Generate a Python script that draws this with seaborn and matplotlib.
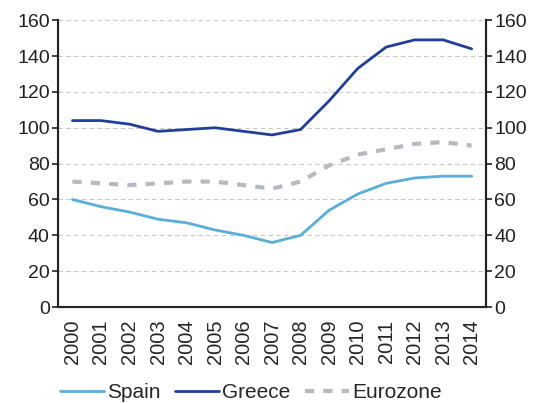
import matplotlib
matplotlib.use("Agg")
import matplotlib.pyplot as plt
import seaborn as sns
import pandas as pd
from matplotlib.lines import Line2D

years = [str(y) for y in range(2000, 2015)]
spain = [60, 56, 53, 49, 47, 43, 40, 36, 40, 54, 63, 69, 72, 73, 73]
greece = [104, 104, 102, 98, 99, 100, 98, 96, 99, 115, 133, 145, 149, 149, 144]
eurozone = [70, 69, 68, 69, 70, 70, 68, 66, 70, 79, 85, 88, 91, 92, 90]

series = {"Spain": spain, "Greece": greece, "Eurozone": eurozone}
colors = {"Spain": "#5aaedb", "Greece": "#213f98", "Eurozone": "#b5bac1"}

df = pd.DataFrame(
    [(i, name, v) for name, vals in series.items() for i, v in enumerate(vals)],
    columns=["x", "series", "value"],
)

sns.set_style("white")
plt.rcParams["font.family"] = ["Liberation Sans", "DejaVu Sans"]

fig = plt.figure(figsize=(5.34, 4.03), dpi=100)
ax = fig.add_axes([0.109, 0.238, 0.801, 0.712])

sns.lineplot(data=df, x="x", y="value", hue="series", palette=colors,
             hue_order=list(series), linewidth=2, ax=ax, legend=False)
# eurozone dashed
ax.lines[2].set_dashes([2.2, 2.2])
ax.lines[2].set_linewidth(3)

ax.set_xlim(-0.5, len(years) - 0.5)
ax.set_ylim(0, 160)
ax.set_yticks(range(0, 161, 20))
ax.set_xticks(range(len(years)))
ax.set_xticklabels(years, rotation=90, fontsize=14.5)
ax.set_xticks([i - 0.5 for i in range(len(years) + 1)], minor=True)
ax.tick_params(axis="x", which="major", length=0, pad=9)
ax.tick_params(axis="x", which="minor", length=4, width=1.2, color="#231f20")
ax.tick_params(axis="y", labelsize=14, length=4, width=1.2, color="#231f20",
               labelcolor="#231f20", pad=2)
ax.set_xlabel("")
ax.set_ylabel("")
ax.grid(axis="y", color="#c8c8c8", linestyle=(0, (4, 3)), linewidth=0.8)
ax.set_axisbelow(True)

for side in ["left", "right", "bottom"]:
    ax.spines[side].set_color("#231f20")
    ax.spines[side].set_linewidth(1.5)
ax.spines["top"].set_visible(False)

ax2 = ax.twinx()
ax2.set_ylim(ax.get_ylim())
ax2.set_yticks(range(0, 161, 20))
ax2.tick_params(axis="y", labelsize=14, length=4, width=1.2, color="#231f20",
                labelcolor="#231f20", pad=2)
ax2.spines["top"].set_visible(False)
ax2.spines["right"].set_color("#231f20")
ax2.spines["right"].set_linewidth(1.5)

handles = [
    Line2D([], [], color=colors["Spain"], linewidth=2),
    Line2D([], [], color=colors["Greece"], linewidth=2),
    Line2D([], [], color=colors["Eurozone"], linewidth=3, dashes=[2.2, 2.2]),
]
fig.legend(handles, list(series), loc="lower center", bbox_to_anchor=(0.47, -0.045),
           ncol=3, frameon=False, fontsize=15, handlelength=2.1,
           handletextpad=0.15, columnspacing=0.7)

fig.savefig("out.png", dpi=100)
